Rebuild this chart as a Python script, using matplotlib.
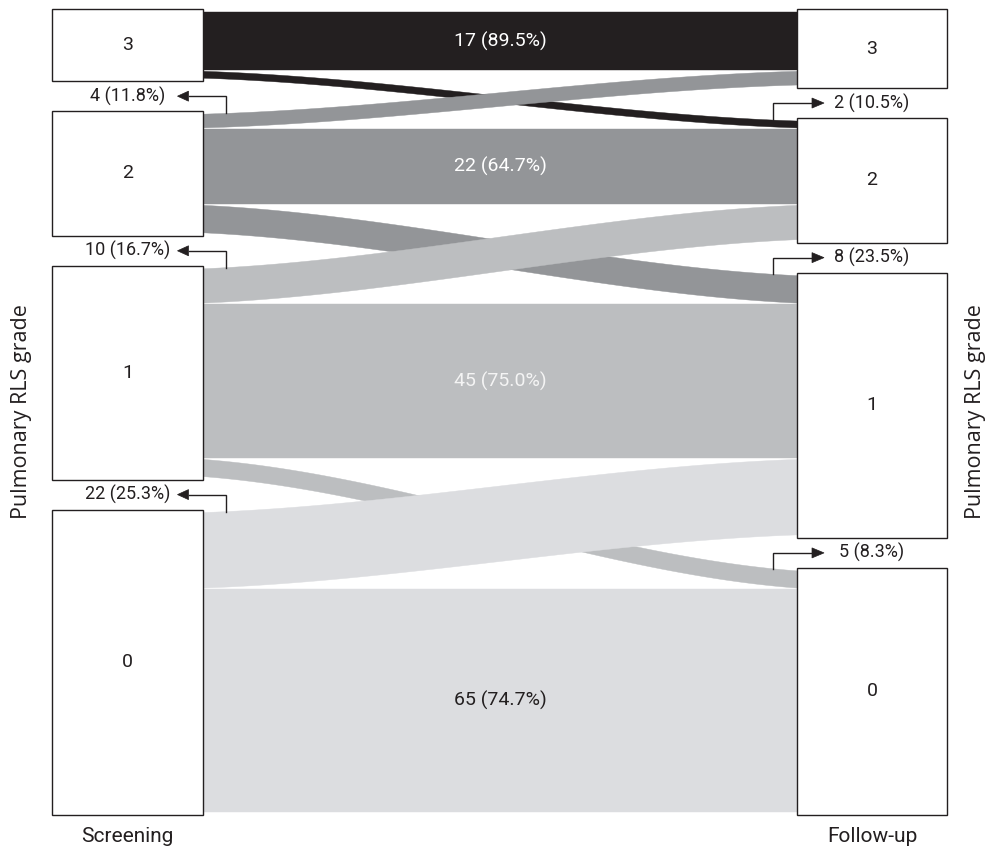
import matplotlib
matplotlib.use("Agg")
import matplotlib.pyplot as plt
from matplotlib.patches import Rectangle, Polygon
import numpy as np

# ---------------- data ----------------
grades = ["3", "2", "1", "0"]
# rows: screening grade 3,2,1,0 ; columns: follow-up grade 3,2,1,0
from_grade3 = [17, 2, 0, 0]
from_grade2 = [4, 22, 8, 0]
from_grade1 = [0, 10, 45, 5]
from_grade0 = [0, 0, 22, 65]
transitions = [from_grade3, from_grade2, from_grade1, from_grade0]
stage_labels = ["Screening", "Follow-up"]
axis_label = "Pulmonary RLS grade"

# ---------------- style / layout ----------------
W, H = 995, 846
DARK = "#231f20"
source_colors = ["#231f20", "#939598", "#bcbec0", "#dcdde0"]
label_colors = ["white", "white", "#f4f4f4", DARK]
S = 3.43      # px per patient
PAD = 3.0     # padding inside boxes
FG = 1.0      # gap between flows within a box
NG = 30.0     # gap between boxes
TOP = 9.0
XL0, XL1 = 52, 203
XR0, XR1 = 797, 947
MAIN_FONT = "Roboto"
SIDE_FONT = "Open Sans"
ALPHA = 0.6   # curvature of the ribbons (0 = straight, 1 = full S)

fig = plt.figure(figsize=(W / 100, H / 100), dpi=100)
ax = fig.add_axes([0, 0, 1, 1])
ax.set_xlim(0, W)
ax.set_ylim(H, 0)
ax.axis("off")

n_g = len(grades)


def stack(get):
    """Compute box extents and flow ranges for one side."""
    boxes, ranges = [], {}
    y = TOP
    for a in range(n_g):
        top = y
        cur = y + PAD
        for b in range(n_g):
            n = get(a, b)
            if n > 0:
                ranges[(a, b)] = (cur, cur + n * S)
                cur += n * S + FG
        bottom = cur - FG + PAD
        boxes.append((top, bottom))
        y = bottom + NG
    return boxes, ranges


left_boxes, left_ranges = stack(lambda a, b: transitions[a][b])
right_boxes, right_ranges = stack(lambda a, b: transitions[b][a])

t = np.linspace(0, 1, 300)
shape = (1 - ALPHA) * t + ALPHA * (3 * t ** 2 - 2 * t ** 3)


def ribbon_edge(x0, y0, x1, y1):
    return x0 + (x1 - x0) * t, y0 + (y1 - y0) * shape


curves = {}
for i in range(n_g):
    for j in range(n_g):
        n = transitions[i][j]
        if n <= 0:
            continue
        a0, b0 = left_ranges[(i, j)]
        a1, b1 = right_ranges[(j, i)]
        tx, ty = ribbon_edge(XL1, a0, XR0, a1)
        bx_, by_ = ribbon_edge(XL1, b0, XR0, b1)
        curves[(i, j)] = (tx, ty)
        pts = np.vstack([np.column_stack([tx, ty]), np.column_stack([bx_[::-1], by_[::-1]])])
        ax.add_patch(Polygon(pts, closed=True, facecolor=source_colors[i], edgecolor=source_colors[i],
                             lw=0.3, zorder=2 + (0 if i == j else 1)))
        if i == j:
            pct = 100 * n / sum(transitions[i])
            ax.text((XL1 + XR0) / 2, (a0 + b0) / 2, f"{n} ({pct:.1f}%)", ha="center", va="center",
                    fontsize=14, color=label_colors[i], family=MAIN_FONT, zorder=5)

# boxes
for k in range(n_g):
    for (x0, x1), boxes in (((XL0, XL1), left_boxes), ((XR0, XR1), right_boxes)):
        top, bottom = boxes[k]
        ax.add_patch(Rectangle((x0, top), x1 - x0, bottom - top, facecolor="white",
                               edgecolor=DARK, lw=1.0, zorder=6))
        ax.text((x0 + x1) / 2, (top + bottom) / 2, grades[k], ha="center", va="center",
                fontsize=14, color=DARK, family=MAIN_FONT, zorder=7)


def arrow(xv, yflow, ymid, xbase, xtip):
    ax.plot([xv, xv, xbase], [yflow, ymid, ymid], color=DARK, lw=1.0, zorder=8,
            solid_joinstyle="miter")
    ax.add_patch(Polygon([[xtip, ymid], [xbase, ymid - 5], [xbase, ymid + 5]], closed=True,
                         facecolor=DARK, edgecolor=DARK, lw=0.5, zorder=8))


# side annotations for transitions between grades
for i in range(n_g):
    for j in range(n_g):
        n = transitions[i][j]
        if n <= 0 or i == j:
            continue
        pct = 100 * n / sum(transitions[i])
        txt = f"{n} ({pct:.1f}%)"
        tx, ty = curves[(i, j)]
        if j < i:  # moved to a higher grade: label on the screening side
            xv = XL1 + 23
            yflow = np.interp(xv, tx, ty)
            ymid = (left_boxes[i - 1][1] + left_boxes[i][0]) / 2
            arrow(xv, yflow, ymid, XL1 - 14.5, XL1 - 25.5)
            ax.text((XL0 + XL1) / 2, ymid, txt, ha="center", va="center", fontsize=13,
                    color=DARK, family=MAIN_FONT, zorder=9)
        else:  # moved to a lower grade: label on the follow-up side
            xv = XR0 - 24
            yflow = np.interp(xv, tx, ty)
            ymid = (right_boxes[j - 1][1] + right_boxes[j][0]) / 2
            arrow(xv, yflow, ymid, XR0 + 15, XR0 + 27)
            ax.text((XR0 + XR1) / 2, ymid, txt, ha="center", va="center", fontsize=13,
                    color=DARK, family=MAIN_FONT, zorder=9)

# stage labels
ax.text((XL0 + XL1) / 2, 836, stage_labels[0], ha="center", va="center", fontsize=15,
        color=DARK, family=MAIN_FONT)
ax.text((XR0 + XR1) / 2, 836, stage_labels[1], ha="center", va="center", fontsize=15,
        color=DARK, family=MAIN_FONT)

ymid_all = (left_boxes[0][0] + left_boxes[-1][1]) / 2
ax.text(22, ymid_all, axis_label, rotation=90, ha="center", va="center", fontsize=15.5,
        color=DARK, family=SIDE_FONT)
ax.text(976, ymid_all, axis_label, rotation=90, ha="center", va="center", fontsize=15.5,
        color=DARK, family=SIDE_FONT)

fig.savefig("out.png", dpi=100)
